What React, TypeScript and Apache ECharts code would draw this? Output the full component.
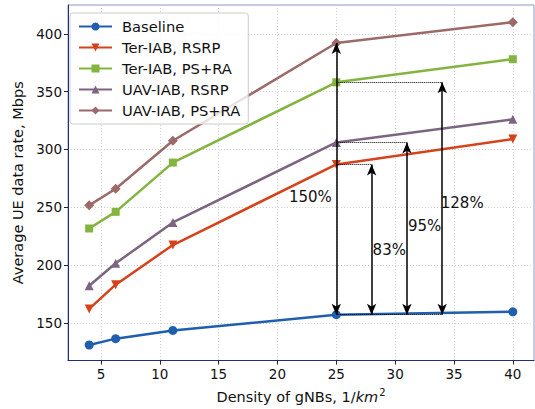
import React, { useEffect, useRef } from "react";
import * as echarts from "echarts";

// gNB density (1/km^2) and average UE data rate (Mbps) per scheme
const densities = [4, 6.25, 11.11, 25, 40];
const baseline = [130.8, 136.3, 143.4, 157, 159.5];
const terRsrp = [162, 183, 217.3, 287, 309];
const terPsRa = [231.6, 246, 288.6, 358, 378];
const uavRsrp = [182, 201.5, 236.8, 306, 326];
const uavPsRa = [251.6, 266, 307.5, 392, 410];

const xTicks = [5, 10, 15, 20, 25, 30, 35, 40];
const yTicks = [150, 200, 250, 300, 350, 400];

// gain annotations at density 25: arrow x position and the compared series
const gainIndex = 3;
const gainArrowX = [25, 28, 31, 34];
const gainSeries = [uavPsRa, terRsrp, uavRsrp, terPsRa];
// label anchor for each gain text (x, y in data units)
const gainLabelX = [22.8, 29.5, 32.5, 35.7];
const gainLabelY = [259, 212.7, 234, 254];

const FONT = "DejaVu Sans";

export default function App() {
  const ref = useRef<HTMLDivElement>(null);

  useEffect(() => {
    if (!ref.current) return;
    const chart = echarts.init(ref.current, undefined, { renderer: "svg" });

    const mk = (name: string, data: number[], color: string, symbol: string, rotate = 0) => ({
      name,
      type: "line",
      data: densities.map((x, i) => [x, data[i]]),
      symbol,
      symbolSize: symbol === "rect" ? 8 : symbol === "diamond" ? 10 : 9,
      symbolRotate: rotate,
      lineStyle: { color, width: 2.5 },
      itemStyle: { color },
      z: 3,
    });

    const base = baseline[gainIndex];
    const arrows = gainArrowX.map((x, i) => [
      { coord: [x, base] },
      { coord: [x, gainSeries[i][gainIndex]] },
    ]);
    const guides = gainArrowX.slice(1).map((x, i) => [
      { coord: [densities[gainIndex], gainSeries[i + 1][gainIndex]] },
      { coord: [x, gainSeries[i + 1][gainIndex]] },
    ]);
    guides.push([
      { coord: [densities[gainIndex], base] },
      { coord: [gainArrowX[gainArrowX.length - 1], base] },
    ]);
    const labels = gainSeries.map((s, i) => ({
      coord: [gainLabelX[i], gainLabelY[i]],
      value: Math.round((s[gainIndex] / base - 1) * 100),
    }));

    chart.setOption({
      animation: false,
      textStyle: { fontFamily: FONT },
      grid: { left: 68, right: 1, top: 5, bottom: 46, show: true, borderColor: "#8e96c6", borderWidth: 1 },
      legend: {
        orient: "vertical",
        left: 70,
        top: 13,
        data: ["Baseline", "Ter-IAB, RSRP", "Ter-IAB, PS+RA", "UAV-IAB, RSRP", "UAV-IAB, PS+RA"],
        itemWidth: 33,
        itemHeight: 10,
        itemGap: 6,
        padding: [6, 8, 6, 8],
        backgroundColor: "rgba(255,255,255,0.8)",
        borderColor: "#cccccc",
        borderWidth: 1,
        borderRadius: 3,
        textStyle: { fontFamily: FONT, fontSize: 14.7, color: "#111", padding: [0, 0, 0, 5] },
      },
      xAxis: {
        type: "value",
        min: 2.2,
        max: 41.8,
        splitNumber: 8,
        name: "Density of gNBs, 1/{it|km}{sup|2}",
        nameLocation: "middle",
        nameGap: 27,
        nameTextStyle: {
          fontFamily: FONT,
          fontSize: 14.5,
          color: "#111",
          rich: {
            it: { fontFamily: FONT, fontSize: 14.5, fontStyle: "italic", color: "#111" },
            sup: { fontFamily: FONT, fontSize: 10, color: "#111", verticalAlign: "top", padding: [0, 0, 8, 1] },
          },
        },
        axisLine: { show: true, lineStyle: { color: "#1f2d7a", width: 1 } },
        axisTick: { show: true, length: 4, customValues: xTicks, lineStyle: { color: "#222" } },
        axisLabel: { customValues: xTicks, fontFamily: FONT, fontSize: 13.5, color: "#111", margin: 6 },
        splitLine: { show: true, lineStyle: { color: "#cfcfcf", type: [1, 2], width: 1 } },
      },
      yAxis: {
        type: "value",
        min: 117.4,
        max: 424.9,
        splitNumber: 5,
        name: "Average UE data rate, Mbps",
        nameLocation: "middle",
        nameGap: 41,
        nameTextStyle: { fontFamily: FONT, fontSize: 14.5, color: "#111" },
        axisLine: { show: true, lineStyle: { color: "#1f2d7a", width: 1 } },
        axisTick: { show: true, length: 4, customValues: yTicks, lineStyle: { color: "#222" } },
        axisLabel: { customValues: yTicks, fontFamily: FONT, fontSize: 13.5, color: "#111", margin: 6 },
        splitLine: { show: true, lineStyle: { color: "#cfcfcf", type: [1, 2], width: 1 } },
      },
      series: [
        mk("Baseline", baseline, "#1f5fae", "circle"),
        mk("Ter-IAB, RSRP", terRsrp, "#d5431b", "triangle", 180),
        mk("Ter-IAB, PS+RA", terPsRa, "#82b43f", "rect"),
        mk("UAV-IAB, RSRP", uavRsrp, "#7d6582", "triangle"),
        mk("UAV-IAB, PS+RA", uavPsRa, "#9b6a69", "diamond"),
        {
          name: "gain",
          type: "line",
          data: [],
          z: 5,
          silent: true,
          markLine: {
            silent: true,
            symbol: ["arrow", "arrow"],
            symbolSize: [7, 11],
            label: { show: false },
            lineStyle: { color: "#000", width: 1.5, type: "solid" },
            data: arrows,
          },
          markPoint: {
            silent: true,
            symbol: "circle",
            symbolSize: 0,
            label: {
              show: true,
              formatter: (p: any) => `${p.value}%`,
              fontFamily: FONT,
              fontSize: 15,
              color: "#111",
            },
            data: labels,
          },
        },
        {
          name: "guides",
          type: "line",
          data: [],
          z: 4,
          silent: true,
          markLine: {
            silent: true,
            symbol: ["none", "none"],
            label: { show: false },
            lineStyle: { color: "#000", width: 1, type: [1, 1] },
            data: guides,
          },
        },
      ],
    });

    return () => chart.dispose();
  }, []);

  return (
    <div
      ref={ref}
      style={{ position: "fixed", left: 0, top: 0, width: 535, height: 409, background: "#fff" }}
    />
  );
}
